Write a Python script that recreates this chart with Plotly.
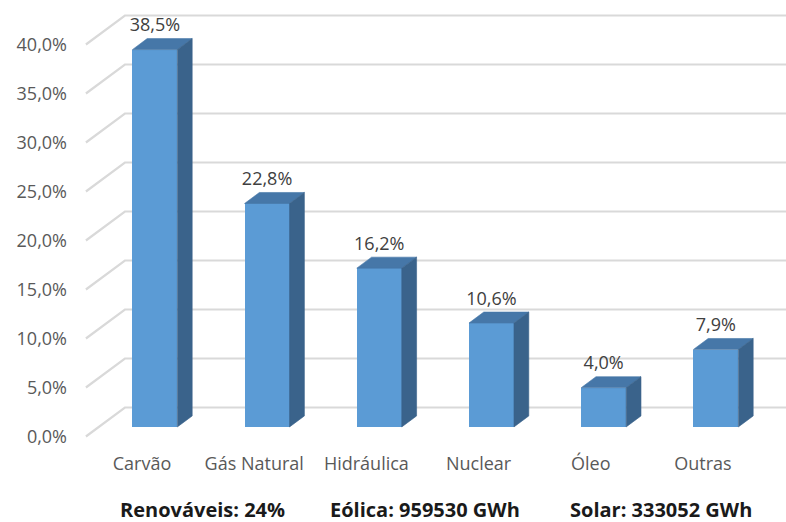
import plotly.graph_objects as go

# Shares of electricity generation by source
categories = ["Carvão", "Gás Natural", "Hidráulica", "Nuclear", "Óleo", "Outras"]
shares = [38.5, 22.8, 16.2, 10.6, 4.0, 7.9]
y_ticks = [0, 5, 10, 15, 20, 25, 30, 35, 40]
footer_notes = ["Renováveis: 24%", "Eólica: 959530 GWh", "Solar: 333052 GWh"]


def pct(v):
    return f"{v:.1f}%".replace(".", ",")


# ---- canvas and pixel scale ----
W, H = 786, 522
M_L, M_R, M_T, M_B = 72, 0, 0, 72
PX_PER_CAT = 112.2        # horizontal pixels per category
PX_PER_PCT = 9.8          # vertical pixels per percentage point
X0_PX = 142               # pixel of the first category on the front plane
Y0_PX = 436.5             # pixel of 0 % on the front plane

x_range = [(M_L - X0_PX) / PX_PER_CAT, (W - M_R - X0_PX) / PX_PER_CAT]
y_range = [-(H - M_B - Y0_PX) / PX_PER_PCT, (Y0_PX - M_T) / PX_PER_PCT]

# oblique depth of the 3-D box (data units)
DX = 39 / PX_PER_CAT
DY = 29 / PX_PER_PCT
F_FRONT, F_BACK = 0.33, 0.71   # depth fractions occupied by the bars
BAR_W = 45 / PX_PER_CAT

FRONT = "#5B9BD5"
TOP = "#4677A8"
SIDE = "#3A638B"
GRID = "#D9D9D9"
FONT = "Open Sans"

fig = go.Figure()

# back-wall gridlines with the oblique connector on the left, kept below the bars
for v in y_ticks:
    fig.add_shape(
        type="path", xref="x", yref="y", layer="below",
        path=f"M {-0.5} {v} L {-0.5 + DX} {v + DY} L {x_range[1] + 1} {v + DY}",
        line=dict(color=GRID, width=2.2))

# front faces
xs = [i + F_FRONT * DX for i in range(len(categories))]
fig.add_trace(go.Bar(x=xs, y=shares, base=F_FRONT * DY, width=BAR_W,
                     marker=dict(color=FRONT, line=dict(width=0)),
                     hoverinfo="skip", showlegend=False))

# top and side faces
ddx = (F_BACK - F_FRONT) * DX
ddy = (F_BACK - F_FRONT) * DY
for xc, v in zip(xs, shares):
    l, r = xc - BAR_W / 2, xc + BAR_W / 2
    b, t = F_FRONT * DY, v + F_FRONT * DY
    fig.add_trace(go.Scatter(
        x=[l, r, r + ddx, l + ddx, l], y=[t, t, t + ddy, t + ddy, t],
        mode="lines", fill="toself", fillcolor=TOP,
        line=dict(width=0.6, color=TOP), hoverinfo="skip", showlegend=False))
    fig.add_trace(go.Scatter(
        x=[r, r + ddx, r + ddx, r, r], y=[b, b + ddy, t + ddy, t, b],
        mode="lines", fill="toself", fillcolor=SIDE,
        line=dict(width=0.6, color=SIDE), hoverinfo="skip", showlegend=False))

# value labels above each bar
fig.add_trace(go.Scatter(
    x=xs, y=[v + F_BACK * DY + 1.2 for v in shares],
    mode="text", text=[pct(v) for v in shares],
    textposition="middle center",
    textfont=dict(family=FONT, size=18, color="#404040"),
    hoverinfo="skip", showlegend=False))

fig.update_layout(
    width=W, height=H,
    margin=dict(l=M_L, r=M_R, t=M_T, b=M_B),
    paper_bgcolor="white", plot_bgcolor="white",
    bargap=0,
    xaxis=dict(range=x_range, tickmode="array",
               tickvals=list(range(len(categories))), ticktext=categories,
               showgrid=False, zeroline=False, showline=False, ticks="",
               ticklabelstandoff=1,
               tickfont=dict(family=FONT, size=18, color="#595959")),
    yaxis=dict(range=y_range, tickmode="array", tickvals=y_ticks,
               ticktext=[pct(v) for v in y_ticks],
               showgrid=False, zeroline=False, showline=False, ticks="",
               ticklabelstandoff=4,
               tickfont=dict(family=FONT, size=18, color="#595959")),
)

# footer notes in bold
plot_h = H - M_T - M_B
for txt, cx in zip(footer_notes, [202, 425, 661]):
    fig.add_annotation(
        text=f"<b>{txt}</b>", xref="paper", yref="paper",
        x=(cx - M_L) / (W - M_L - M_R), y=(H - M_B - 509) / plot_h,
        xanchor="center", yanchor="middle", showarrow=False,
        font=dict(family=FONT, size=20, color="#1A1A1A"))

fig.write_html("out.html")
